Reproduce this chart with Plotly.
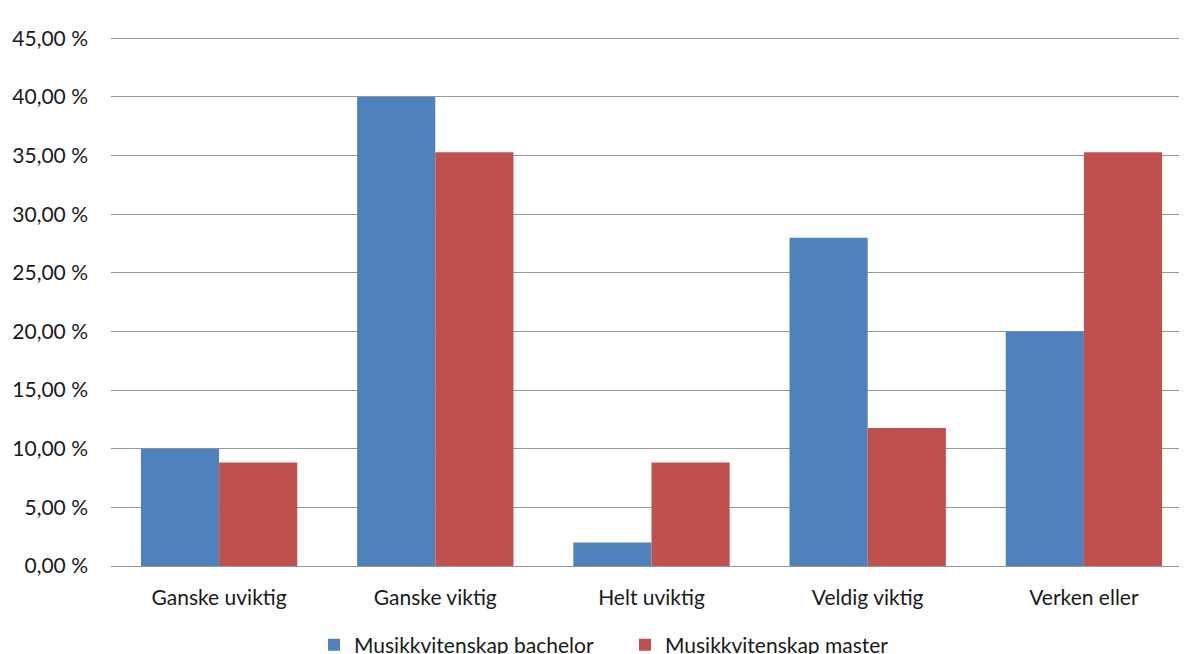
import plotly.graph_objects as go

categories = ["Ganske uviktig", "Ganske viktig", "Helt uviktig", "Veldig viktig", "Verken eller"]
bachelor = [0.10, 0.40, 0.02, 0.28, 0.20]
master = [0.0882, 0.3529, 0.0882, 0.1176, 0.3529]
tick_vals = [0, 0.05, 0.10, 0.15, 0.20, 0.25, 0.30, 0.35, 0.40, 0.45]
tick_text = ["0,00 %", "5,00 %", "10,00 %", "15,00 %", "20,00 %", "25,00 %",
             "30,00 %", "35,00 %", "40,00 %", "45,00 %"]

fig = go.Figure()
fig.add_trace(go.Bar(x=categories, y=bachelor, name="Musikkvitenskap bachelor",
                     marker=dict(color="#4F81BD", line=dict(width=0))))
fig.add_trace(go.Bar(x=categories, y=master, name="Musikkvitenskap master",
                     marker=dict(color="#C0504D", line=dict(width=0))))

fig.update_layout(
    width=1187, height=654,
    margin=dict(l=103, r=3, t=28, b=96, autoexpand=False),
    paper_bgcolor="white", plot_bgcolor="white",
    barmode="group", bargap=0.277, bargroupgap=0,
    font=dict(family="Lato, Open Sans, sans-serif", size=21, color="#1a1a1a"),
    showlegend=True,
    legend=dict(orientation="h", x=0.1878, xanchor="left",
                yref="container", y=0.057, yanchor="top",
                font=dict(size=21), itemwidth=30, entrywidth=266,
                traceorder="normal"),
    xaxis=dict(showgrid=False, showline=False, ticks="", ticklabelstandoff=17,
               tickfont=dict(size=21)),
    yaxis=dict(range=[0, 0.452], tickvals=tick_vals, ticktext=tick_text,
               showgrid=True, gridcolor="#979797", gridwidth=1.3,
               zeroline=True, zerolinecolor="#979797", zerolinewidth=1.3,
               showline=False, ticks="", ticklabelstandoff=22,
               tickfont=dict(size=21)),
)

fig.write_html("out.html")
